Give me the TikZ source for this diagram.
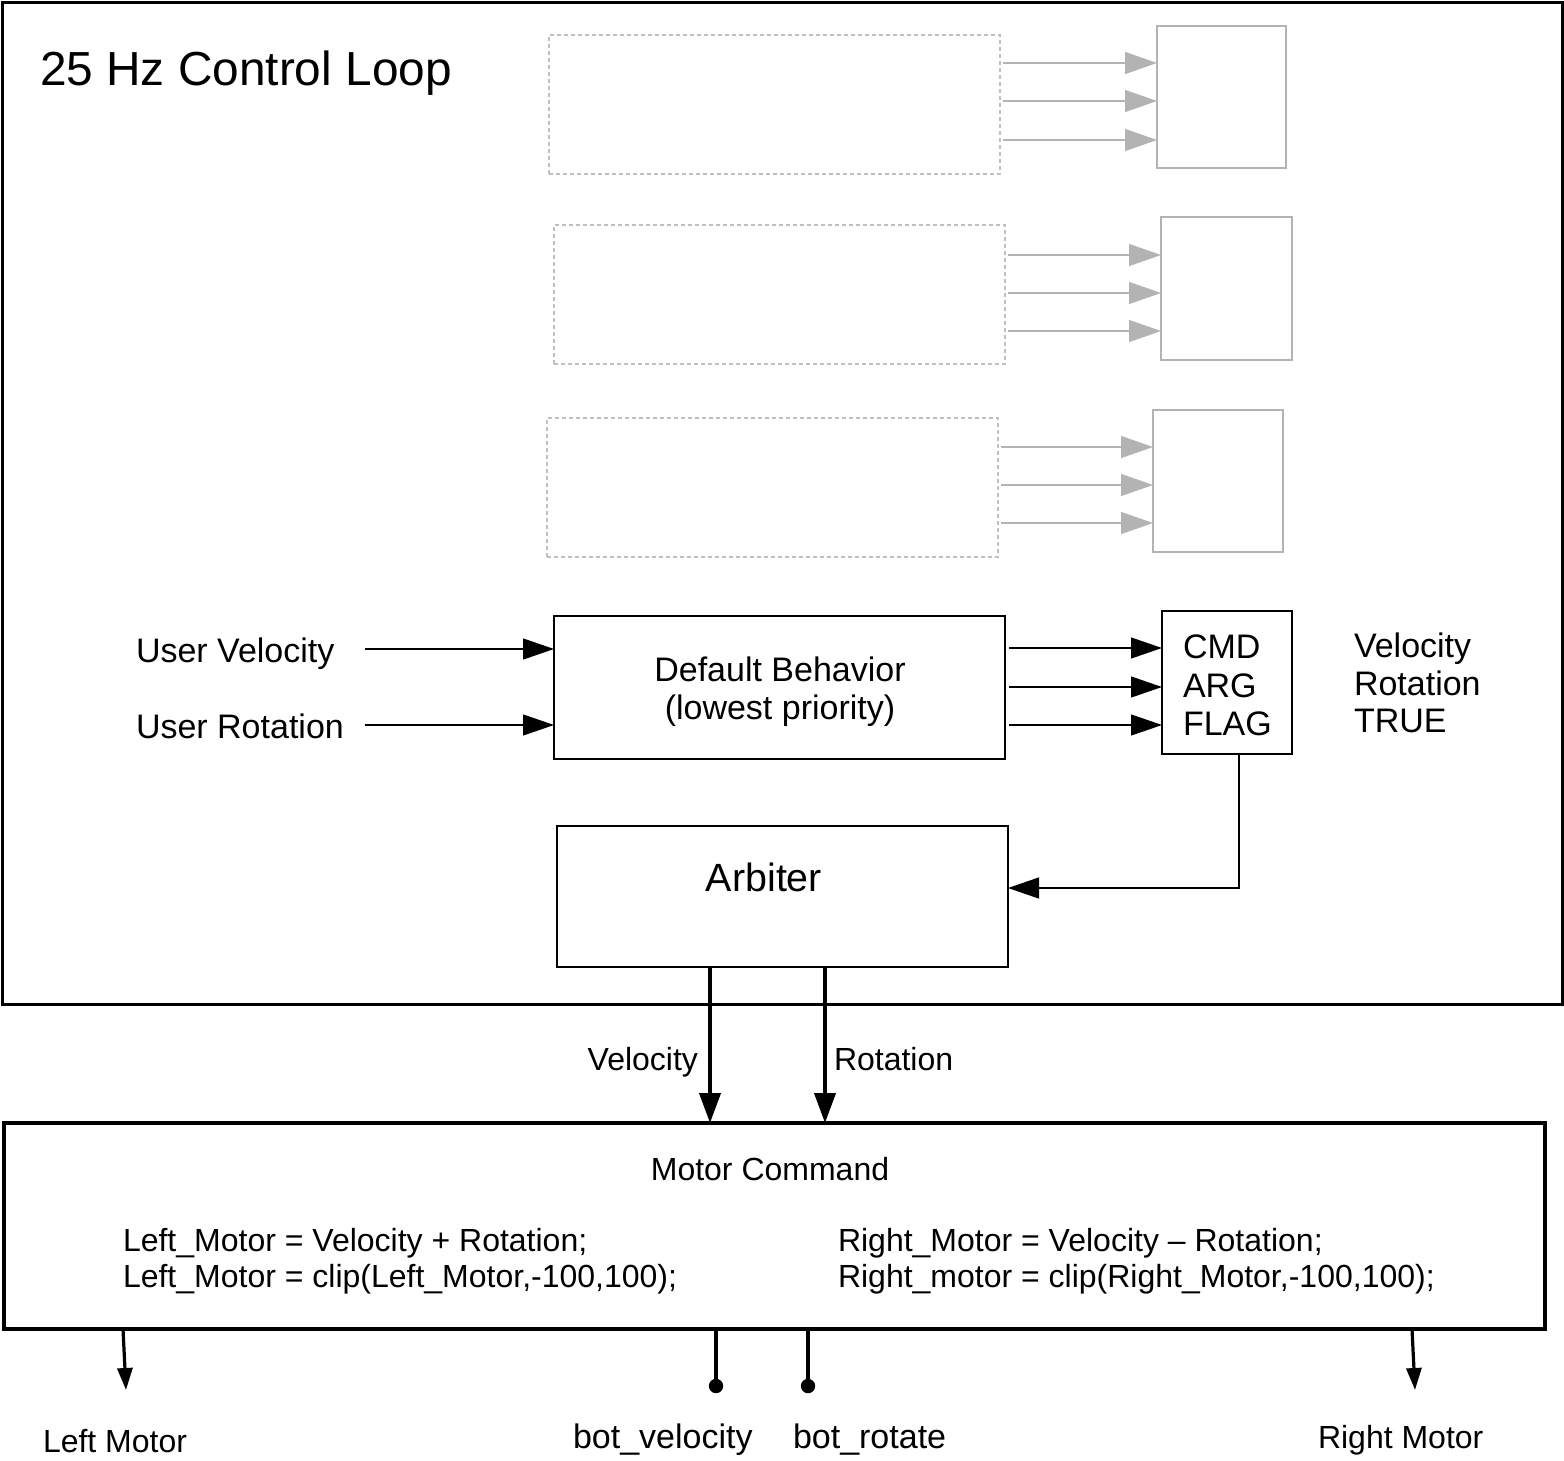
\documentclass[tikz,border=0pt]{standalone}
\usepackage{fontspec}
\setmainfont{Liberation Sans}
\usetikzlibrary{arrows.meta}
\definecolor{gl}{HTML}{B3B3B3}
\definecolor{gd}{HTML}{BFBFBF}
\begin{document}
\begin{tikzpicture}[x=0.5pt,y=-0.5pt,
  box/.style={draw, line width=1pt, inner sep=0pt, outer sep=0pt, anchor=north west},
  gbox/.style={box, draw=gl},
  dbox/.style={box, draw=gd, dash pattern=on 2pt off 1.5pt},
  garr/.style={draw=gl, line width=0.7pt, -{Triangle[length=16pt,width=11pt]}},
  tarr/.style={line width=0.6pt, -{Triangle[length=15.5pt,width=10.5pt]}},
  karr/.style={line width=2pt, -{Triangle[length=15pt,width=10.5pt]}},
  marr/.style={line width=1.6pt, -{Triangle[length=11pt,width=7.5pt]}},
  txt/.style={inner sep=0pt, outer sep=0pt, anchor=base west},
  ctxt/.style={inner sep=0pt, outer sep=0pt, anchor=base},
  fA/.style={font=\fontsize{17}{19.25}\selectfont},
  fB/.style={font=\fontsize{16}{18}\selectfont},
]
\useasboundingbox (0,0) rectangle (1564,1461);
% frames
\node[box, line width=1.5pt, minimum width=780pt, minimum height=500.5pt] (loop) at (2,3) {};
\node[txt, font=\fontsize{23.9}{28}\selectfont] (title) at (40,86) {25 Hz Control Loop};
% gray placeholder behaviours
\node[dbox, minimum width=225.5pt, minimum height=69.5pt] (d1) at (549,35) {};
\node[dbox, minimum width=225.5pt, minimum height=69.5pt] (d2) at (554,225) {};
\node[dbox, minimum width=225.5pt, minimum height=69.5pt] (d3) at (547,418) {};
\node[gbox, minimum width=64.5pt, minimum height=71pt] (g1) at (1157,26) {};
\node[gbox, minimum width=65.5pt, minimum height=71.5pt] (g2) at (1161,217) {};
\node[gbox, minimum width=65pt, minimum height=71pt] (g3) at (1153,410) {};
\foreach \y in {63,101,140} {\coordinate (p) at (0,\y); \draw[garr, shorten <=1.5pt] (p -| d1.east) -- (p -| g1.west);}
\foreach \y in {255,293,331} {\coordinate (p) at (0,\y); \draw[garr, shorten <=1.5pt] (p -| d2.east) -- (p -| g2.west);}
\foreach \y in {447,485,523} {\coordinate (p) at (0,\y); \draw[garr, shorten <=1.5pt] (p -| d3.east) -- (p -| g3.west);}
% default behaviour
\node[box, minimum width=225.5pt, minimum height=71.5pt] (def) at (554,616) {};
\node[ctxt, fA] (defa) at (780,681) {Default Behavior};
\node[ctxt, fA] (defb) at (780,719) {(lowest priority)};
\node[txt, fA] (uv) at (136,662) {User Velocity};
\node[txt, fA] (ur) at (136,738) {User Rotation};
\coordinate (uvs) at (365,649);
\coordinate (urs) at (365,725);
\draw[tarr] (uvs) -- (uvs -| def.west);
\draw[tarr] (urs) -- (urs -| def.west);
% CMD box
\node[box, minimum width=65pt, minimum height=71.5pt] (cmd) at (1162,611) {};
\node[txt, fA] (c1) at (1183,658) {CMD};
\node[txt, fA] (c2) at (1183,697) {ARG};
\node[txt, fA] (c3) at (1183,735) {FLAG};
\node[txt, fA] (v1) at (1354,657) {Velocity};
\node[txt, fA] (v2) at (1354,695) {Rotation};
\node[txt, fA] (v3) at (1354,732) {TRUE};
\foreach \y in {648,687,725} {\coordinate (p) at (0,\y); \draw[tarr, shorten <=2pt] (p -| def.east) -- (p -| cmd.west);}
% arbiter
\node[box, minimum width=225.5pt, minimum height=70.5pt] (arb) at (557,826) {};
\node[ctxt, font=\fontsize{19.7}{23}\selectfont] (arbt) at (764,891) {Arbiter};
\coordinate (fb) at (1239,888);
\draw[tarr] (cmd.south -| fb) |- (arb.east |- fb);
% motor command
\node[box, line width=1.7pt, minimum width=770.5pt, minimum height=103pt] (mot) at (4,1123) {};
\coordinate (vx) at (710,0);
\coordinate (rx) at (825,0);
\draw[karr] (arb.south -| vx) -- (mot.north -| vx);
\draw[karr] (arb.south -| rx) -- (mot.north -| rx);
\node[txt, fB, anchor=base east] (vl) at (698,1070) {Velocity};
\node[txt, fB] (rl) at (834,1070) {Rotation};
\node[ctxt, fB] (mct) at (770,1180) {Motor Command};
\node[txt, fB] (l1) at (123,1251) {Left\_Motor = Velocity + Rotation;};
\node[txt, fB] (l2) at (123,1287) {Left\_Motor = clip(Left\_Motor,-100,100);};
\node[txt, fB] (r1) at (838,1251) {Right\_Motor = Velocity – Rotation;};
\node[txt, fB] (r2) at (838,1287) {Right\_motor = clip(Right\_Motor,-100,100);};
% outputs
\coordinate (lm) at (126,1390);
\coordinate (rm) at (1415,1390);
\coordinate (bv) at (716,1386);
\coordinate (br) at (808,1386);
\coordinate (lmx) at (123,0);
\coordinate (rmx) at (1412,0);
\draw[marr] (mot.south -| lmx) -- (lm);
\draw[marr] (mot.south -| rmx) -- (rm);
\draw[line width=1.6pt] (mot.south -| bv) -- (bv);
\draw[line width=1.6pt] (mot.south -| br) -- (br);
\fill (bv) circle (3.6pt);
\fill (br) circle (3.6pt);
\node[txt, fB] (lmt) at (43,1452) {Left Motor};
\node[txt, fB] (rmt) at (1318,1448) {Right Motor};
\node[txt, font=\fontsize{17}{20}\selectfont] (bvt) at (573,1448) {bot\_velocity};
\node[txt, font=\fontsize{17}{20}\selectfont] (brt) at (793,1448) {bot\_rotate};
\end{tikzpicture}
\end{document}
